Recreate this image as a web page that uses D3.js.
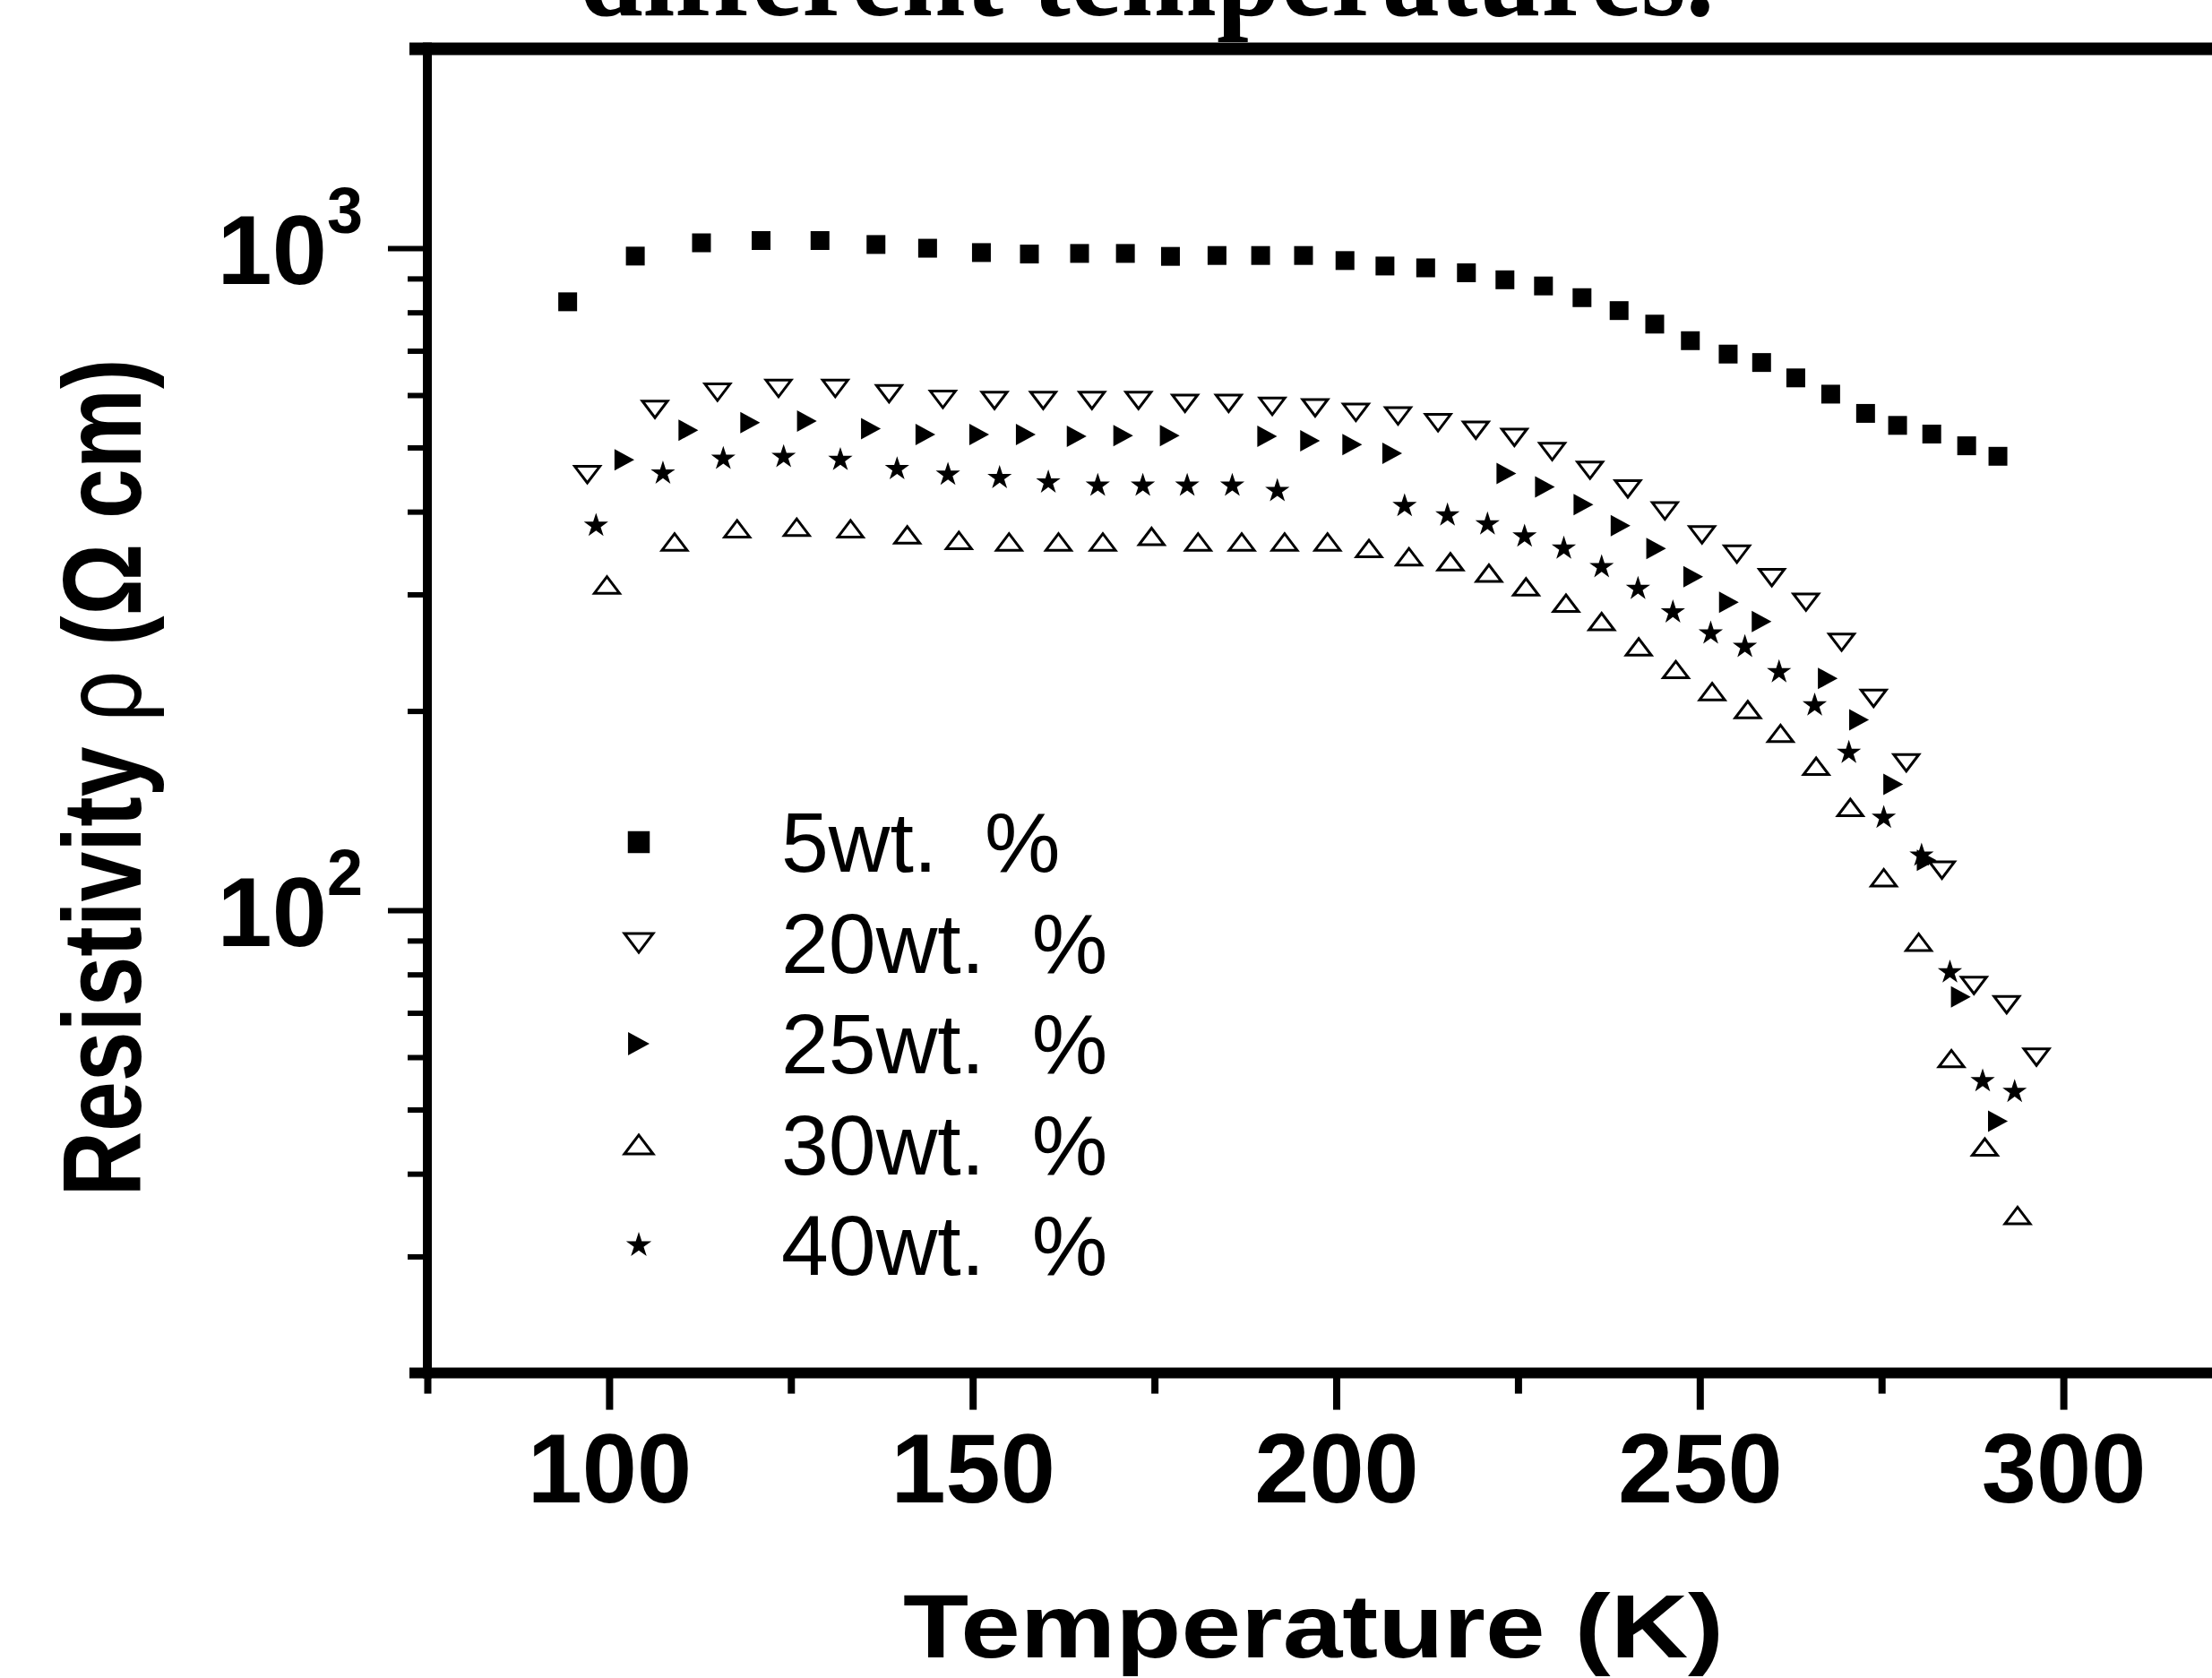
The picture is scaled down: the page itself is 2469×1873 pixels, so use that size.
<!DOCTYPE html>
<html>
<head>
<meta charset="utf-8">
<script src="https://cdn.jsdelivr.net/npm/d3@7"></script>
<style>
  body { margin: 0; background: #fff; }
  svg text { font-family: "Liberation Sans", Arial, sans-serif; fill: #000; }
</style>
</head>
<body>
<div class="canvas"></div>
<script>
// series data (temperature in K, resistivity in ohm cm)
const temp5 = [94.3, 103.6, 112.7, 120.9, 129.0, 136.7, 143.8, 151.2, 157.8, 164.7, 171.0, 177.2, 183.6, 189.6, 195.5, 201.2, 206.7, 212.3, 217.9, 223.2, 228.5, 233.8, 238.9, 243.8, 248.7, 253.9, 258.5, 263.2, 268.0, 272.8, 277.2, 281.9, 286.7, 291.0];
const rho5 = [830, 973, 1019, 1027, 1027, 1013, 1000, 985, 980, 982, 982, 972, 975, 975, 975, 958, 940, 934, 918, 896, 877, 842, 805, 768, 725, 692, 672, 637, 602, 563, 540, 524, 503, 485];

const temp20 = [97.0, 106.3, 114.9, 123.3, 131.1, 138.5, 145.9, 153.0, 159.7, 166.4, 172.8, 179.2, 185.2, 191.2, 197.1, 202.7, 208.5, 214.0, 219.2, 224.5, 229.7, 234.9, 240.1, 245.2, 250.3, 255.1, 259.9, 264.6, 269.5, 273.9, 278.4, 283.3, 287.7, 292.2, 296.3];
const rho20 = [455, 571, 606, 614, 614, 603, 591, 589, 589, 589, 589, 583, 583, 577, 574, 565, 558, 545, 531, 518, 493, 462, 433, 401, 369, 345, 318, 292, 254, 209, 167, 115, 77, 72, 60];

const temp25 = [102.1, 110.9, 119.4, 127.2, 136.0, 143.5, 150.9, 157.3, 164.3, 170.7, 177.1, 190.5, 196.4, 202.2, 207.7, 223.4, 228.7, 234.0, 239.1, 244.0, 249.1, 254.0, 258.5, 267.6, 271.9, 276.6, 281.2, 285.9, 291.0];
const rho25 = [479, 531, 545, 548, 534, 523, 523, 523, 520, 521, 521, 520, 512, 505, 490, 457, 436, 410, 381, 352, 319, 292, 273, 224, 194, 155, 119, 74, 48];

const temp30 = [99.7, 109.0, 117.6, 125.8, 133.2, 141.0, 148.1, 155.0, 161.8, 167.9, 174.6, 181.0, 187.0, 192.9, 198.8, 204.5, 210.0, 215.7, 221.0, 226.1, 231.6, 236.5, 241.6, 246.7, 251.7, 256.6, 261.1, 266.0, 270.7, 275.3, 280.1, 284.6, 289.2, 293.7];
const rho30 = [310, 360, 377, 379, 377, 369, 362, 360, 360, 360, 367, 360, 360, 360, 360, 352, 342, 336, 323, 308, 291, 273, 250, 231, 214, 201, 185, 165, 143, 112, 89.5, 59.7, 43.9, 34.6];

const temp40 = [98.2, 107.4, 115.7, 124.0, 131.8, 139.6, 146.6, 153.7, 160.4, 167.2, 173.4, 179.5, 185.7, 191.9, 209.4, 215.3, 220.8, 225.9, 231.3, 236.5, 241.5, 246.3, 251.5, 256.2, 260.9, 265.8, 270.5, 275.3, 280.5, 284.4, 288.9, 293.3];
const rho40 = [381, 457, 481, 484, 479, 464, 455, 450, 443, 438, 438, 438, 438, 430, 408, 395, 383, 367, 352, 330, 306, 282, 262, 250, 229, 204, 173, 138, 121, 80.6, 55.2, 53.2];

const seriesNames = ['5wt.  %', '20wt.  %', '25wt.  %', '30wt.  %', '40wt.  %'];
const xMajorTicks = [100, 150, 200, 250, 300];
const xMinorTicks = [75, 125, 175, 225, 275, 325];
const yMajorTicks = [100, 1000];
const yMinorTicks = [30, 40, 50, 60, 70, 80, 90, 200, 300, 400, 500, 600, 700, 800, 900];

const dims = { width: 2469, height: 1873 };
const plot = { left: 477, right: 2506, top: 54.6, bottom: 1532.6 };

const svg = d3.select('.canvas')
    .append('svg')
    .attr('width', dims.width)
    .attr('height', dims.height);

svg.append('rect')
    .attr('width', dims.width)
    .attr('height', dims.height)
    .attr('fill', '#fff');

const x = d3.scaleLinear().domain([75, 325]).range([plot.left, plot.right]);
const y = d3.scaleLog().domain([20, 2000]).range([plot.bottom, plot.top]);

// custom marker shapes (flattened triangles like the original plot)
const triDown = { draw(ctx, w) { const h = w * 0.66; ctx.moveTo(-w / 2, -h / 2); ctx.lineTo(w / 2, -h / 2); ctx.lineTo(0, h / 2); ctx.closePath(); } };
const triUp = { draw(ctx, w) { const h = w * 0.66; ctx.moveTo(-w / 2, h / 2); ctx.lineTo(w / 2, h / 2); ctx.lineTo(0, -h / 2); ctx.closePath(); } };
const triRight = { draw(ctx, h) { const w = h * 0.92; ctx.moveTo(-w / 2, -h / 2); ctx.lineTo(w / 2, 0); ctx.lineTo(-w / 2, h / 2); ctx.closePath(); } };

const series = [
    { name: seriesNames[0], temps: temp5, rhos: rho5, type: d3.symbolSquare, size: 441, legSize: 600, fill: '#000' },
    { name: seriesNames[1], temps: temp20, rhos: rho20, type: triDown, size: 28, legSize: 32, fill: 'none' },
    { name: seriesNames[2], temps: temp25, rhos: rho25, type: triRight, size: 24, legSize: 26, fill: '#000' },
    { name: seriesNames[3], temps: temp30, rhos: rho30, type: triUp, size: 28, legSize: 32, fill: 'none' },
    { name: seriesNames[4], temps: temp40, rhos: rho40, type: d3.symbolStar, size: 230, legSize: 250, fill: '#000' }
];

// axes
const xMinor = d3.axisBottom(x).tickValues(xMinorTicks).tickSize(23).tickFormat('');
const xMajor = d3.axisBottom(x).tickValues(xMajorTicks).tickSize(41).tickPadding(25).tickFormat(d3.format('d'));

const xMinorG = svg.append('g').attr('transform', `translate(0, ${plot.bottom})`).call(xMinor);
const xMajorG = svg.append('g').attr('transform', `translate(0, ${plot.bottom})`).call(xMajor);
[xMinorG, xMajorG].forEach(g => {
    g.select('.domain').remove();
    g.selectAll('line').attr('stroke', '#000').attr('stroke-width', 8);
});
xMajorG.selectAll('text')
    .attr('font-size', 110)
    .attr('font-weight', 'bold');

const yMinor = d3.axisLeft(y).tickValues(yMinorTicks).tickSize(22).tickFormat('');
const yMajor = d3.axisLeft(y).tickValues(yMajorTicks).tickSize(44).tickFormat('');
const yMinorG = svg.append('g').attr('transform', `translate(${plot.left}, 0)`).call(yMinor);
const yMajorG = svg.append('g').attr('transform', `translate(${plot.left}, 0)`).call(yMajor);
[yMinorG, yMajorG].forEach(g => {
    g.select('.domain').remove();
    g.selectAll('line').attr('stroke', '#000').attr('stroke-width', 6);
});

// power-of-ten labels
const yLabels = svg.append('g');
yMajorTicks.forEach(v => {
    const t = yLabels.append('text')
        .attr('x', 405)
        .attr('y', y(v) + 40)
        .attr('text-anchor', 'end')
        .attr('font-weight', 'bold')
        .attr('font-size', 110);
    t.append('tspan').text('10');
    t.append('tspan').attr('font-size', 72).attr('dy', -57).text(Math.round(Math.log10(v)));
});

// frame lines
svg.append('line')
    .attr('x1', plot.left).attr('x2', plot.left)
    .attr('y1', plot.top - 7).attr('y2', plot.bottom + 6)
    .attr('stroke', '#000').attr('stroke-width', 10);
svg.append('line')
    .attr('x1', plot.left - 20).attr('x2', dims.width)
    .attr('y1', plot.top).attr('y2', plot.top)
    .attr('stroke', '#000').attr('stroke-width', 14);
svg.append('line')
    .attr('x1', plot.left - 20).attr('x2', dims.width)
    .attr('y1', plot.bottom).attr('y2', plot.bottom)
    .attr('stroke', '#000').attr('stroke-width', 12);

// data points
const graph = svg.append('g');
series.forEach(s => {
    const sym = d3.symbol().type(s.type).size(s.size);
    graph.append('g')
        .selectAll('path')
        .data(s.temps.map((t, i) => ({ t, r: s.rhos[i] })))
        .enter()
        .append('path')
        .attr('d', sym)
        .attr('transform', d => `translate(${x(d.t)}, ${y(d.r)})`)
        .attr('fill', s.fill)
        .attr('stroke', '#000')
        .attr('stroke-width', s.fill === 'none' ? 3 : 0);
});

// legend
const legend = svg.append('g');
series.forEach((s, i) => {
    const cy = 940 + i * 112.5;
    legend.append('path')
        .attr('d', d3.symbol().type(s.type).size(s.legSize))
        .attr('transform', `translate(713, ${cy})`)
        .attr('fill', s.fill)
        .attr('stroke', '#000')
        .attr('stroke-width', s.fill === 'none' ? 3 : 0);
    legend.append('text')
        .attr('x', 872)
        .attr('y', cy + 33)
        .attr('font-size', 95)
        .style('white-space', 'pre')
        .text(s.name);
});

// axis titles
svg.append('text')
    .attr('x', 1466)
    .attr('y', 1850)
    .attr('text-anchor', 'middle')
    .attr('font-weight', 'bold')
    .attr('font-size', 100)
    .attr('textLength', 916)
    .attr('lengthAdjust', 'spacingAndGlyphs')
    .text('Temperature (K)');

const yTitle = svg.append('text')
    .attr('transform', 'translate(157, 868) rotate(-90)')
    .attr('text-anchor', 'middle')
    .attr('font-weight', 'bold')
    .attr('font-size', 125)
    .attr('textLength', 935)
    .attr('lengthAdjust', 'spacingAndGlyphs');
yTitle.append('tspan').text('Resistivity ');
yTitle.append('tspan').attr('font-weight', 'normal').text('\u03c1');
yTitle.append('tspan').text(' (\u03a9 cm)');

// cut-off caption above the frame
svg.append('text')
    .attr('x', 1280)
    .attr('y', 17)
    .attr('text-anchor', 'middle')
    .style('font-family', '"Liberation Serif", "Times New Roman", serif')
    .attr('font-weight', 'bold')
    .attr('font-size', 139)
    .attr('textLength', 1267)
    .attr('lengthAdjust', 'spacingAndGlyphs')
    .text('different temperatures.');
</script>
</body>
</html>
